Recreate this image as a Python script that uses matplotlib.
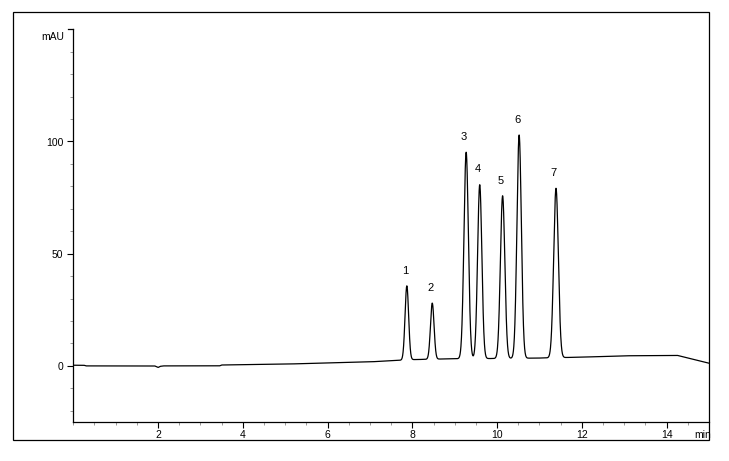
import numpy as np
import matplotlib
matplotlib.use('Agg')
import matplotlib.pyplot as plt
from matplotlib.patches import Rectangle
from matplotlib.ticker import MultipleLocator

plt.rcParams['font.family'] = ['Liberation Sans', 'DejaVu Sans']

# peaks
peak_labels = ['1', '2', '3', '4', '5', '6', '7']
peak_times = [7.87, 8.47, 9.27, 9.59, 10.13, 10.52, 11.39]   # min
peak_heights = [33.0, 25.0, 92.0, 77.5, 72.5, 99.5, 75.5]    # mAU above baseline
peak_widths = [0.042, 0.042, 0.052, 0.050, 0.052, 0.052, 0.055]  # sigma, min

# baseline drift
base_t = [0.0, 0.25, 0.3, 1.92, 2.0, 2.05, 2.12, 3.45, 3.5, 5.0, 6.0, 7.0, 7.5,
          8.0, 9.0, 10.0, 11.0, 12.0, 13.0, 14.25, 15.0]
base_y = [0.3, 0.3, 0.0, 0.0, -0.7, -0.2, 0.0, 0.0, 0.4, 0.8, 1.3, 1.8, 2.3,
          2.8, 3.2, 3.3, 3.5, 3.9, 4.5, 4.7, 1.2]

t = np.linspace(0, 15, 6000)
signal = np.interp(t, base_t, base_y)
for rt, h, w in zip(peak_times, peak_heights, peak_widths):
    signal = signal + h * np.exp(-0.5 * ((t - rt) / w) ** 2)

fig = plt.figure(figsize=(7.29, 4.61), dpi=100)
ax = fig.add_axes([73.3 / 729, 39 / 461, (709 - 73.3) / 729, (422 - 29.3) / 461])

ax.plot(t, signal, color='black', lw=0.9)

for lab, rt in zip(peak_labels, peak_times):
    top = np.interp(rt, t, signal)
    ax.annotate(lab, (rt, top), xytext=(-1.5, 11), textcoords='offset points',
                ha='center', va='center', fontsize=8)

ax.set_xlim(0, 15)
ax.set_ylim(-25, 150)
ax.xaxis.set_minor_locator(MultipleLocator(0.5))
ax.yaxis.set_minor_locator(MultipleLocator(10))
ax.set_xticks([2, 4, 6, 8, 10, 12, 14])
ax.set_yticks([0, 50, 100])

ax.spines['top'].set_visible(False)
ax.spines['right'].set_visible(False)
ax.spines['left'].set_linewidth(0.9)
ax.spines['bottom'].set_linewidth(0.9)
ax.tick_params(which='major', length=4, width=0.8, labelsize=7.5, pad=2)
ax.tick_params(which='minor', length=2.5, width=0.6, color='#888888')
ax.tick_params(axis='y', which='major', pad=3)

# cap tick at the top of the y axis
ax.plot([-0.12, 0], [150, 150], color='black', lw=0.9, clip_on=False)

fig.text(64 / 729, 1 - 37 / 461, 'mAU', ha='right', va='center', fontsize=7.5)
fig.text(711 / 729, 1 - 434.5 / 461, 'min', ha='right', va='center', fontsize=7.5)

# outer frame
fig.patches.append(Rectangle((13 / 729, 1 - 440 / 461), (709 - 13) / 729, (440 - 12) / 461,
                             transform=fig.transFigure, fill=False, ec='black', lw=0.9))

fig.savefig('out.png', dpi=100)
